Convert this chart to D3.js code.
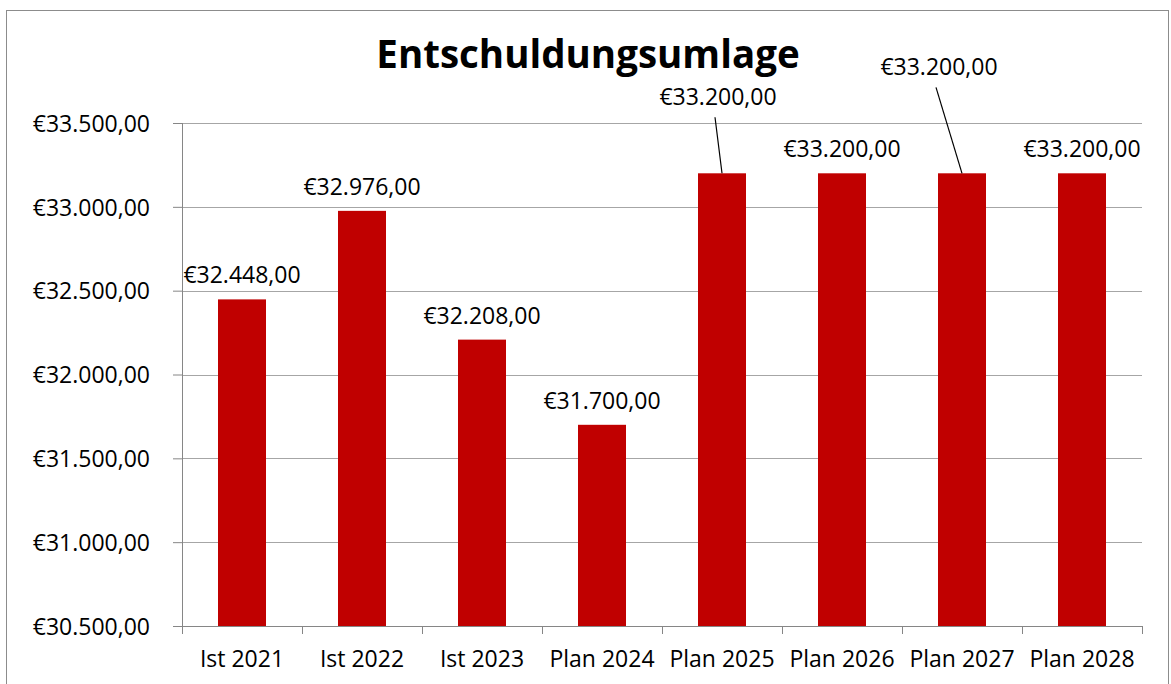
<!DOCTYPE html>
<html>
<head>
<meta charset="utf-8">
<script src="https://cdn.jsdelivr.net/npm/d3@7"></script>
<style>
	body { margin: 0; background: #fff; }
	text { font-family: "Open Sans", sans-serif; fill: #000; }
</style>
</head>
<body>
<svg id="chart" width="1171" height="684"></svg>
<script>
var categories = ['Ist 2021', 'Ist 2022', 'Ist 2023', 'Plan 2024', 'Plan 2025', 'Plan 2026', 'Plan 2027', 'Plan 2028'];
var values = [32448, 32976, 32208, 31700, 33200, 33200, 33200, 33200];
var yTicks = [30500, 31000, 31500, 32000, 32500, 33000, 33500];
var title = 'Entschuldungsumlage';

var de = d3.formatLocale({ decimal: ',', thousands: '.', grouping: [3], currency: ['€', ''] });
var euro = de.format('$,.2f');

var svg = d3.select('#chart');
var margin = {top: 123, right: 29, bottom: 58, left: 182};
var width = 1171 - margin.left - margin.right,
    height = 684 - margin.top - margin.bottom;

// outer chart frame
svg.append('rect')
	.attr('x', 6.5).attr('y', 10.5)
	.attr('width', 1162).attr('height', 690)
	.attr('fill', 'none')
	.attr('stroke', '#8c8c8c');

svg.append('text')
	.attr('x', 588).attr('y', 68)
	.attr('text-anchor', 'middle')
	.style('font-size', '38.5px')
	.style('font-weight', 'bold')
	.text(title);

var g = svg.append('g').attr('transform', 'translate(' + margin.left + ',' + margin.top + ')');

var x = d3.scaleBand()
	.domain(categories)
	.range([0, width])
	.paddingInner(0.6)
	.paddingOuter(0.3);

var y = d3.scaleLinear()
	.domain([30500, 33500])
	.range([height, 0]);

// gridlines
g.selectAll('.grid')
	.data(yTicks.slice(1))
	.enter().append('line')
	.attr('class', 'grid')
	.attr('x1', 0).attr('x2', width)
	.attr('y1', function(d) { return Math.round(y(d)) + 0.5; })
	.attr('y2', function(d) { return Math.round(y(d)) + 0.5; })
	.attr('stroke', '#a6a6a6');

g.selectAll('.bar')
	.data(values)
	.enter().append('rect')
	.attr('class', 'bar')
	.attr('x', function(d, i) { return x(categories[i]); })
	.attr('y', function(d) { return y(d); })
	.attr('width', x.bandwidth())
	.attr('height', function(d) { return height - y(d); })
	.attr('fill', '#c00000');

// y axis
var yAxis = g.append('g')
	.call(d3.axisLeft(y).tickValues(yTicks).tickSize(9).tickPadding(23).tickFormat(euro));
yAxis.select('.domain').attr('stroke', '#868686').attr('d', 'M0.5,' + height + 'V0');
yAxis.selectAll('.tick line').attr('stroke', '#868686');
yAxis.selectAll('.tick text').style('font-size', '23px').attr('dy', '0.36em');

// x axis, ticks on band edges
var xAxis = g.append('g').attr('transform', 'translate(0,' + height + ')');
xAxis.append('line')
	.attr('x1', 0).attr('x2', width)
	.attr('y1', 0.5).attr('y2', 0.5)
	.attr('stroke', '#868686');
var step = x.step();
xAxis.selectAll('.xtick')
	.data(d3.range(categories.length + 1))
	.enter().append('line')
	.attr('class', 'xtick')
	.attr('x1', function(i) { return Math.round(i * step) + 0.5; })
	.attr('x2', function(i) { return Math.round(i * step) + 0.5; })
	.attr('y1', 0).attr('y2', 8)
	.attr('stroke', '#868686');
xAxis.selectAll('.xlabel')
	.data(categories)
	.enter().append('text')
	.attr('class', 'xlabel')
	.attr('x', function(d) { return x(d) + x.bandwidth() / 2; })
	.attr('y', 41)
	.attr('text-anchor', 'middle')
	.style('font-size', '23px')
	.text(function(d) { return d; });

// data labels; two were dragged up in the original, with leader lines
var moved = { 'Plan 2025': [-4, -68], 'Plan 2027': [-23, -98] };

g.selectAll('.val')
	.data(values)
	.enter().append('text')
	.attr('class', 'val')
	.attr('x', function(d, i) {
		var cx = x(categories[i]) + x.bandwidth() / 2;
		return moved[categories[i]] ? cx + moved[categories[i]][0] : cx;
	})
	.attr('y', function(d, i) {
		return moved[categories[i]] ? y(d) + moved[categories[i]][1] : y(d) - 16;
	})
	.attr('text-anchor', 'middle')
	.style('font-size', '23px')
	.text(function(d) { return euro(d); });

categories.forEach(function(c, i) {
	if (!moved[c]) return;
	var cx = x(c) + x.bandwidth() / 2;
	g.append('line')
		.attr('x1', cx + moved[c][0] - 3)
		.attr('y1', y(values[i]) + moved[c][1] + 12)
		.attr('x2', cx)
		.attr('y2', y(values[i]))
		.attr('stroke', '#000')
		.attr('stroke-width', 1.2);
});
</script>
</body>
</html>
